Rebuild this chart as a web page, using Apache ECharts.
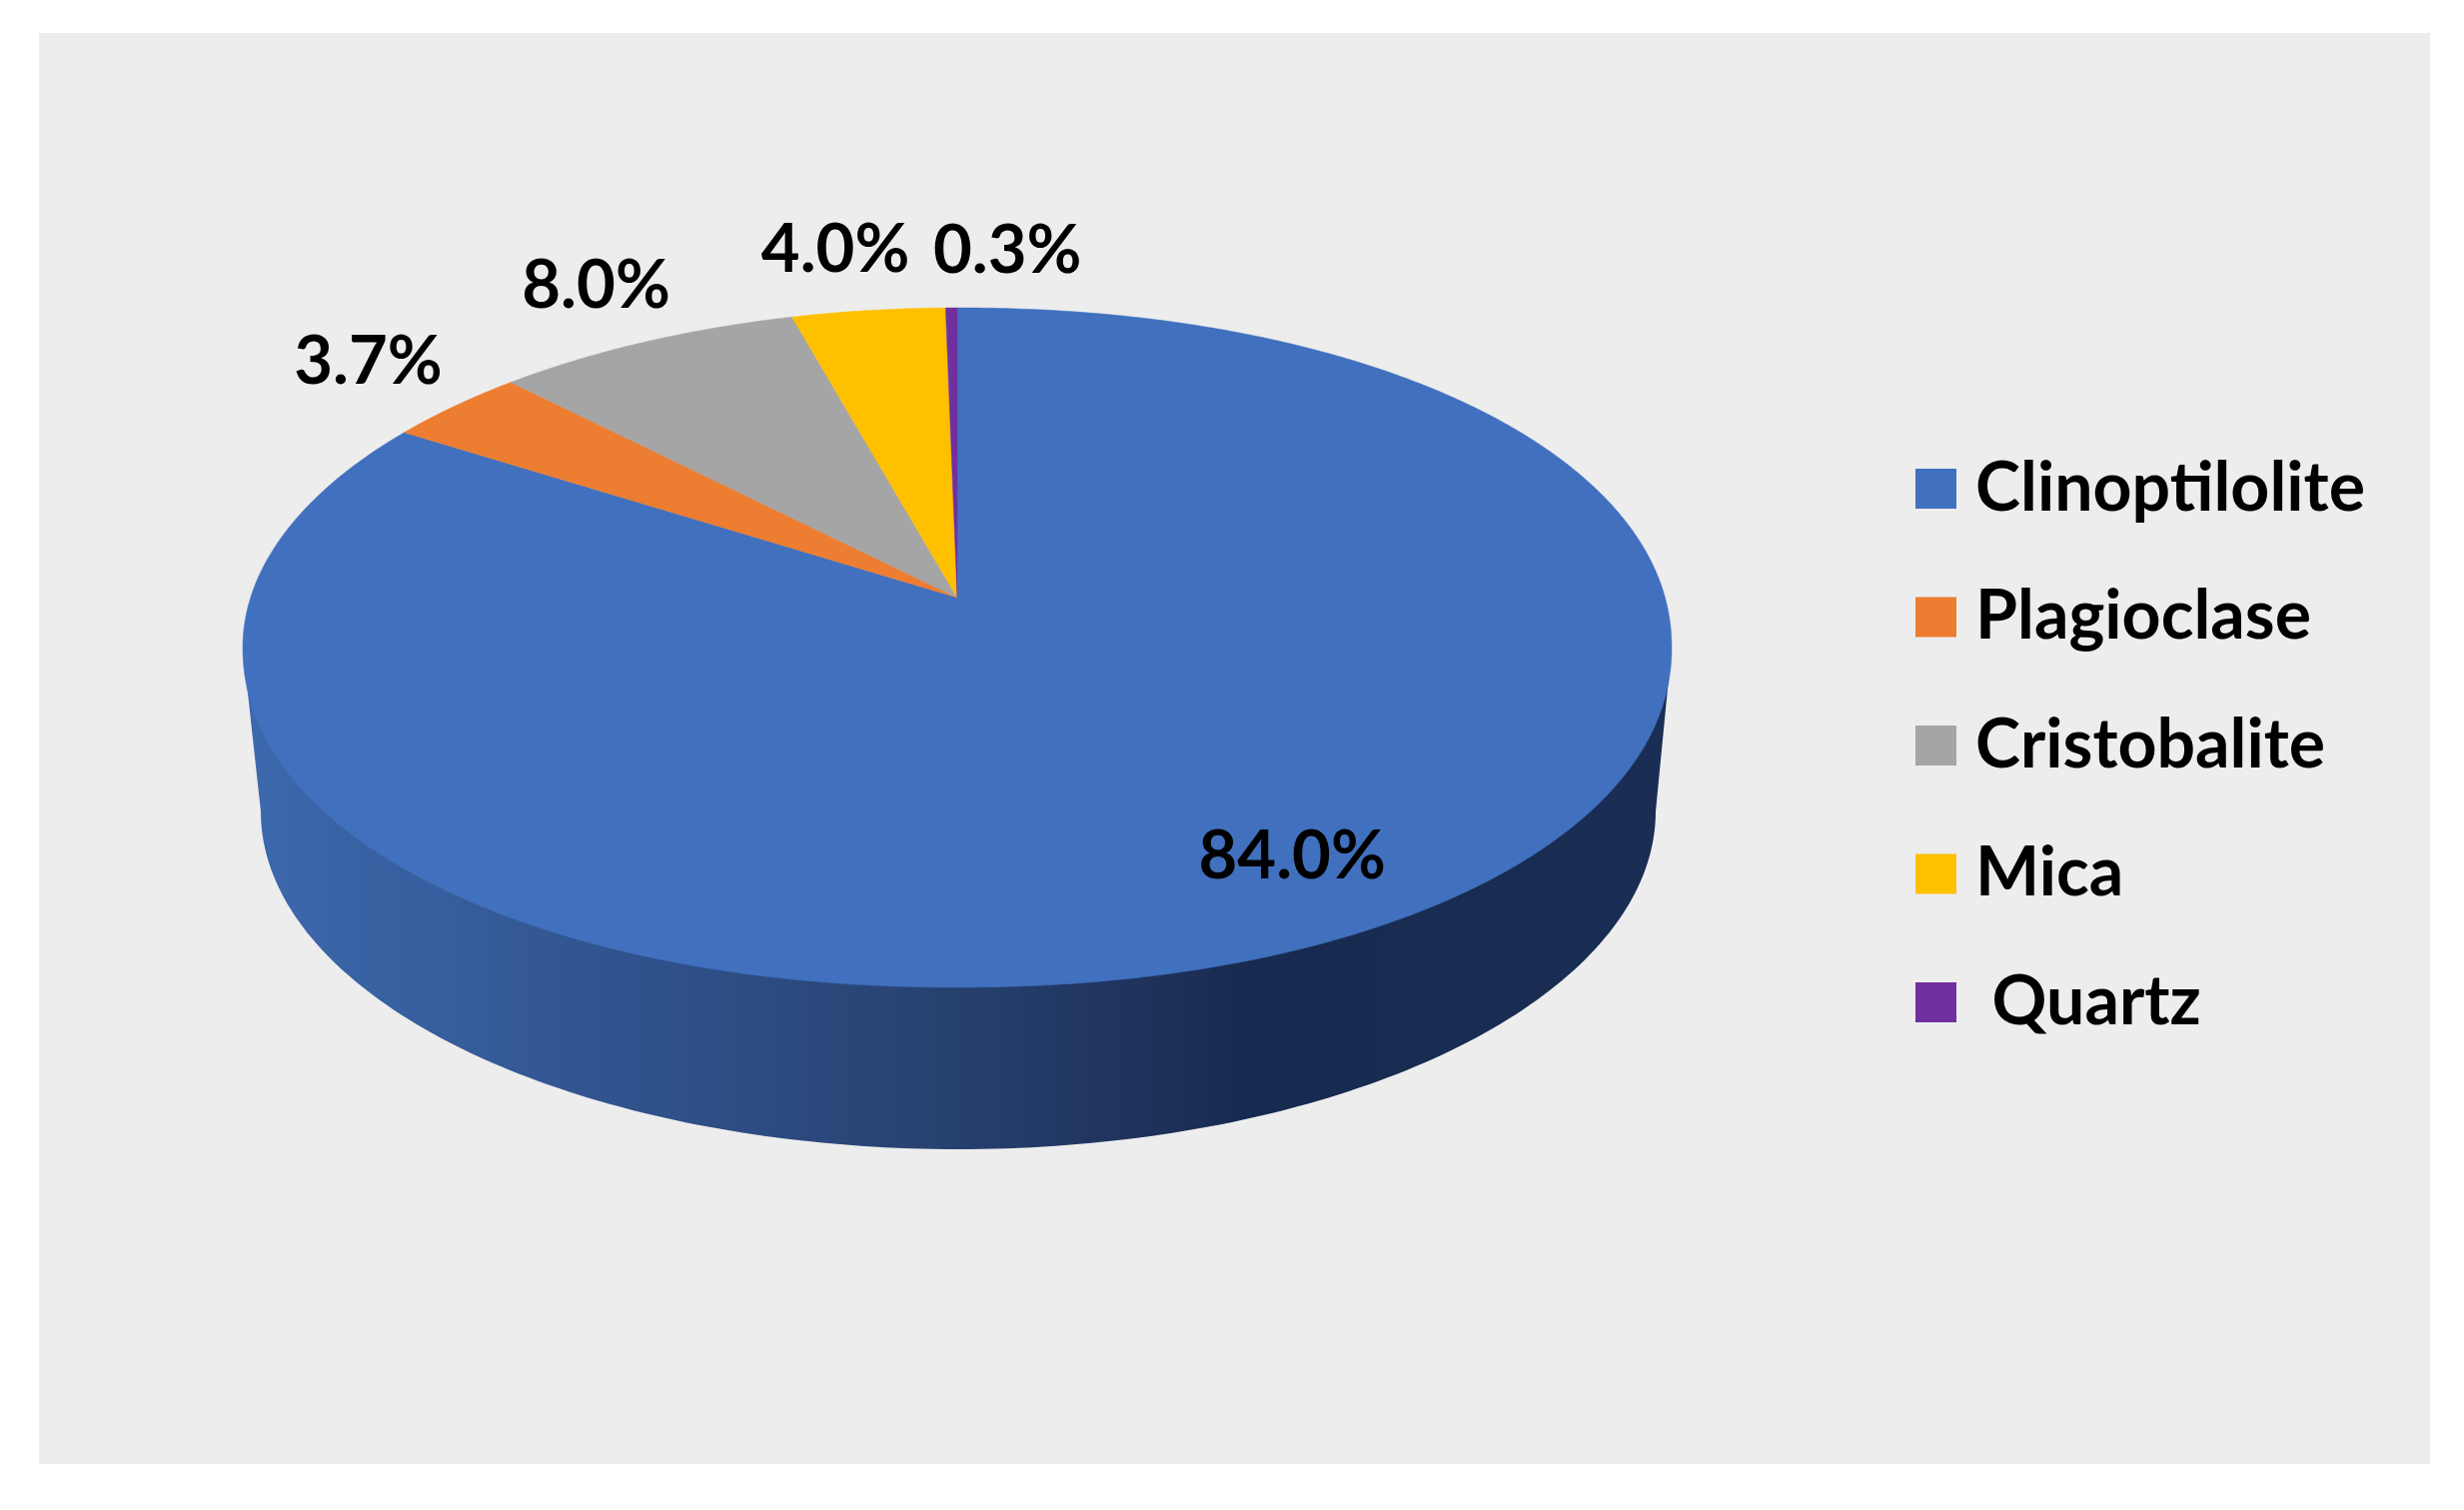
<!DOCTYPE html>
<html>
<head>
<meta charset="utf-8">
<style>html,body{margin:0;padding:0;background:#fff}#c{width:2466px;height:1511px}</style>
<script src="https://cdn.jsdelivr.net/npm/echarts@6/dist/echarts.min.js"></script>
</head>
<body>
<div id="c"></div>
<script>
const categories = ['Clinoptilolite', 'Plagioclase', 'Cristobalite', 'Mica', ' Quartz'];
const values = [84.0, 3.7, 8.0, 4.0, 0.3];
const colors = ['#4170be', '#ed7d31', '#a5a5a5', '#ffc000', '#7030a0'];

// label placement relative to the rim point at each slice's mid angle
const labelDx = [-60, -87, -49, -33, 56];
const labelDy = [-78, -44, -56, -60, -57];

// perspective disc geometry
const top3d = {cx: 958, cy: 648, rx: 715, ry: 340, apexY: 598, roundness: 2.07};
const bottom3d = {cx: 959, cy: 812, rx: 698, ry: 338};
const a = (top3d.cy - top3d.apexY) / top3d.ry;
const s = Math.sqrt(1 - a * a);
const FONT = 'Lato';

function project(deg, r) {
  const t = deg * Math.PI / 180, u = r * Math.sin(t), v = r * Math.cos(t), d = 1 + a * v;
  const X = u * s / d, Y = (v + a) / d;
  // the reference rim is very slightly fuller than a true ellipse, except at the upper left
  const p = top3d.roundness;
  const full = r !== 0 && (X > 0 || Y < 0);
  const f = full ? Math.pow(Math.pow(Math.abs(X), p) + Math.pow(Math.abs(Y), p), -1 / p) : 1;
  return [top3d.cx + top3d.rx * X * f, top3d.cy - top3d.ry * Y * f];
}
const total = values.reduce((p, c) => p + c, 0);
function startDeg(i) {
  let sum = 0;
  for (let k = 0; k < i; k++) sum += values[k];
  return sum / total * 360;
}
function wallPoints() {
  const pts = [[top3d.cx - top3d.rx, top3d.cy]];
  for (let d = 180; d >= 0; d -= 1) {
    const t = d * Math.PI / 180;
    pts.push([bottom3d.cx + bottom3d.rx * Math.cos(t), bottom3d.cy + bottom3d.ry * Math.sin(t)]);
  }
  pts.push([top3d.cx + top3d.rx, top3d.cy]);
  return pts;
}
const wallFill = new echarts.graphic.LinearGradient(0, 0, 1, 0, [
  {offset: 0, color: '#3d69ae'}, {offset: 0.25, color: '#31548f'}, {offset: 0.47, color: '#284373'},
  {offset: 0.65, color: '#1d3058'}, {offset: 0.7, color: '#172a4f'}, {offset: 1, color: '#1a2d54'}
]);

function makeRender(i) {
  return function (params, api) {
    const value = api.value(0);
    const from = startDeg(i), to = from + value / total * 360;
    const pts = [project(0, 0)];
    const n = Math.max(2, Math.ceil((to - from) / 0.5));
    for (let k = 0; k <= n; k++) pts.push(project(from + (to - from) * k / n, 1));
    const rim = project((from + to) / 2, 1);
    const children = [];
    if (i === 0) {
      children.push({type: 'polygon', shape: {points: wallPoints()}, style: {fill: wallFill}});
    }
    children.push({type: 'polygon', shape: {points: pts},
      style: {fill: colors[i], stroke: colors[i], lineWidth: 0.5}});
    children.push({type: 'text', x: rim[0] + labelDx[i], y: rim[1] + labelDy[i], z2: 10,
      style: {text: value.toFixed(1) + '%', fill: '#000', font: 'bold 67px ' + FONT,
        align: 'center', verticalAlign: 'middle'}});
    return {type: 'group', children};
  };
}

const chart = echarts.init(document.getElementById('c'), null, {renderer: 'canvas'});
chart.setOption({
  animation: false,
  backgroundColor: '#ffffff',
  graphic: [{type: 'rect', z: -10, silent: true, shape: {x: 39, y: 33, width: 2393, height: 1432},
    style: {fill: '#ededed'}}],
  legend: {
    orient: 'vertical', left: 1917, top: 455, itemWidth: 41, itemHeight: 40, itemGap: 60.5, icon: 'rect',
    padding: 0, selectedMode: false,
    textStyle: {fontFamily: FONT, fontWeight: 'bold', fontSize: 68, color: '#000', padding: [0, 0, 0, 14]},
    data: categories
  },
  series: categories.map((name, i) => ({
    type: 'custom', name, coordinateSystem: 'none', silent: true,
    itemStyle: {color: colors[i]},
    data: [[values[i]]],
    renderItem: makeRender(i)
  }))
});
</script>
</body>
</html>
